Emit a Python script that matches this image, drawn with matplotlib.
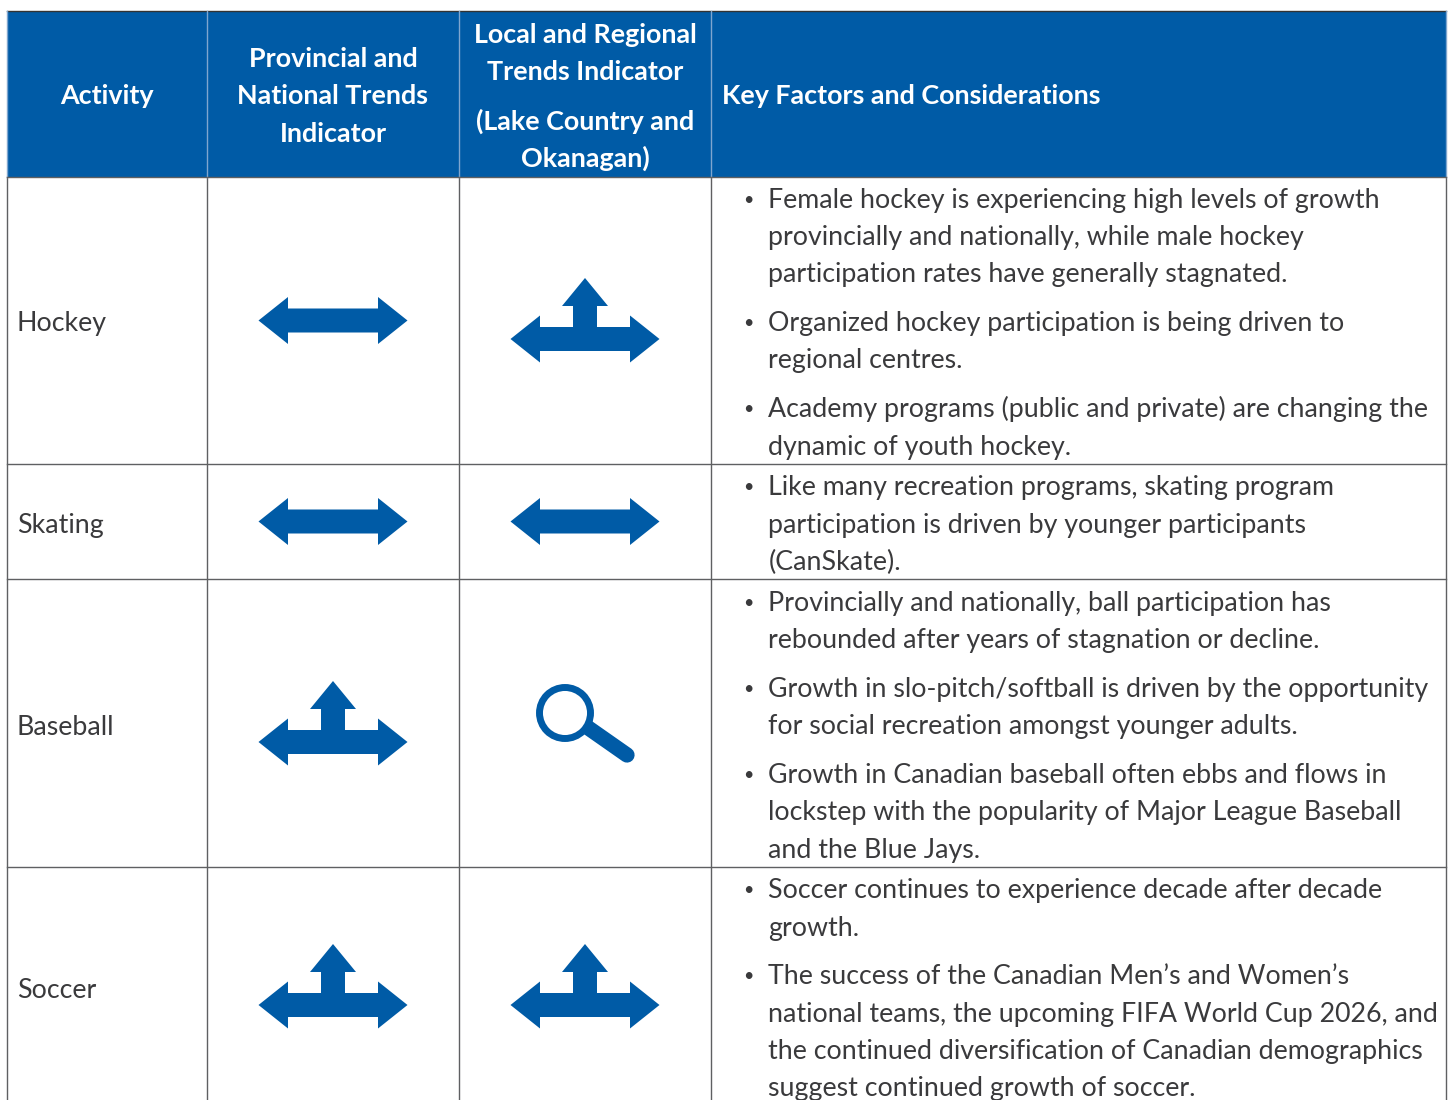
import matplotlib
matplotlib.use("Agg")
import matplotlib.pyplot as plt
from matplotlib.patches import Polygon, Rectangle, Circle
from matplotlib.lines import Line2D

plt.rcParams['font.family'] = ['Lato', 'Open Sans', 'DejaVu Sans']

BLUE = '#005ba6'
TXT = '#3a3a3c'
GRID = '#5f6062'

headers = [
    ("Activity", [95.5]),
    ("Provincial and\nNational Trends\nIndicator", [59, 96, 134]),
    ("Local and Regional\nTrends Indicator\n(Lake Country and\nOkanagan)", [35, 72, 121, 158]),
]
header_last = "Key Factors and Considerations"
activities = ["Hockey", "Skating", "Baseball", "Soccer"]
activity_y = [323, 525, 727.5, 990]
provincial = ["flat", "flat", "up", "up"]
local = ["up", "flat", "search", "up"]
icon_y_local = [339, 521.5, 725, 1005]
icon_y_prov = [320.5, 521.5, 742, 1005]

bullets = [
    ["Female hockey is experiencing high levels of growth",
     "provincially and nationally, while male hockey",
     "participation rates have generally stagnated."],
    ["Organized hockey participation is being driven to",
     "regional centres."],
    ["Academy programs (public and private) are changing the",
     "dynamic of youth hockey."],
    ["Like many recreation programs, skating program",
     "participation is driven by younger participants",
     "(CanSkate)."],
    ["Provincially and nationally, ball participation has",
     "rebounded after years of stagnation or decline."],
    ["Growth in slo-pitch/softball is driven by the opportunity",
     "for social recreation amongst younger adults."],
    ["Growth in Canadian baseball often ebbs and flows in",
     "lockstep with the popularity of Major League Baseball",
     "and the Blue Jays."],
    ["Soccer continues to experience decade after decade",
     "growth."],
    ["The success of the Canadian Men\u2019s and Women\u2019s",
     "national teams, the upcoming FIFA World Cup 2026, and",
     "the continued diversification of Canadian demographics",
     "suggest continued growth of soccer."],
]
bullet_baselines = [
    [208.3, 245.3, 282.3],
    [331.3, 368.3],
    [417.3, 455.3],
    [495.3, 533.3, 570.3],
    [611.3, 648.3],
    [697.3, 734.3],
    [783.3, 820.3, 858.3],
    [898.3, 936.3],
    [984.3, 1022.3, 1059.3, 1096.3],
]

col_x = [7.5, 206.8, 458.8, 710.8, 1446]
row_y = [11, 176.8, 463.8, 578.8, 866.8]
col_c = [107, 333, 585]

fig = plt.figure(figsize=(14.5, 11), dpi=100, facecolor='white')
ax = fig.add_axes([0, 0, 1, 1])
ax.set_xlim(0, 1450)
ax.set_ylim(1100, 0)
ax.axis('off')

ax.add_patch(Rectangle((col_x[0], row_y[0]), col_x[-1] - col_x[0], row_y[1] - row_y[0],
                       facecolor=BLUE, edgecolor='none', zorder=1))
lw = 1.0
ax.add_line(Line2D([col_x[0], col_x[-1]], [row_y[0], row_y[0]], color='#333333', lw=lw, zorder=3))
for x in col_x:
    ax.add_line(Line2D([x, x], [row_y[1], 1100], color=GRID, lw=lw, zorder=3))
    ax.add_line(Line2D([x, x], [row_y[0], row_y[1]], color='#7fa6cf', lw=lw, zorder=3))
for y in row_y[1:]:
    ax.add_line(Line2D([col_x[0], col_x[-1]], [y, y], color=GRID, lw=lw, zorder=3))

HS = 19.4
BS = 19.3


def flat_pts(cx, cy):
    return [(cx - 74.5, cy), (cx - 45, cy - 23.5), (cx - 45, cy - 12), (cx + 45, cy - 12),
            (cx + 45, cy - 23.5), (cx + 74.5, cy), (cx + 45, cy + 23.5), (cx + 45, cy + 12),
            (cx - 45, cy + 12), (cx - 45, cy + 23.5)]


def up_pts(cx, cy):
    # cy = centre line of the horizontal arrow
    return [(cx - 74.5, cy), (cx - 45, cy - 23.5), (cx - 45, cy - 12), (cx - 12, cy - 12),
            (cx - 12, cy - 33), (cx - 23, cy - 33), (cx, cy - 61), (cx + 23, cy - 33),
            (cx + 12, cy - 33), (cx + 12, cy - 12), (cx + 45, cy - 12), (cx + 45, cy - 23.5),
            (cx + 74.5, cy), (cx + 45, cy + 23.5), (cx + 45, cy + 12), (cx - 45, cy + 12),
            (cx - 45, cy + 23.5)]


def draw_icon(kind, cx, cy):
    if kind == "flat":
        ax.add_patch(Polygon(flat_pts(cx, cy), closed=True, facecolor=BLUE, edgecolor='none', zorder=4))
    elif kind == "up":
        ax.add_patch(Polygon(up_pts(cx, cy), closed=True, facecolor=BLUE, edgecolor='none', zorder=4))
    else:
        gx, gy = cx - 20, cy - 12
        ax.add_line(Line2D([gx + 22, gx + 62], [gy + 14, gy + 42], color=BLUE, lw=11,
                           solid_capstyle='round', zorder=4))
        ax.add_patch(Circle((gx, gy), 25.5, facecolor='white', edgecolor=BLUE, lw=5, zorder=5))


for (txt, ys), cx in zip(headers, col_c):
    for line, y in zip(txt.split("\n"), ys):
        ax.text(cx, y, line, color='white', fontsize=HS, fontweight='bold',
                ha='center', va='center', zorder=5)
ax.text(722, 95.5, header_last, color='white', fontsize=HS, fontweight='bold',
        ha='left', va='center', zorder=5)

for name, y in zip(activities, activity_y):
    ax.text(17, y, name, color=TXT, fontsize=BS, ha='left', va='center', zorder=5)

for k, y in zip(provincial, icon_y_prov):
    draw_icon(k, col_c[1], y)
for k, y in zip(local, icon_y_local):
    draw_icon(k, col_c[2], y)

for lines, ys in zip(bullets, bullet_baselines):
    ax.text(748.5, ys[0] - 3.5, "\u2022", color=TXT, fontsize=13, ha='center', va='baseline', zorder=5)
    for line, y in zip(lines, ys):
        ax.text(768.5, y, line, color=TXT, fontsize=BS, ha='left', va='baseline', zorder=5)

fig.savefig("out.png", dpi=100, facecolor='white')
